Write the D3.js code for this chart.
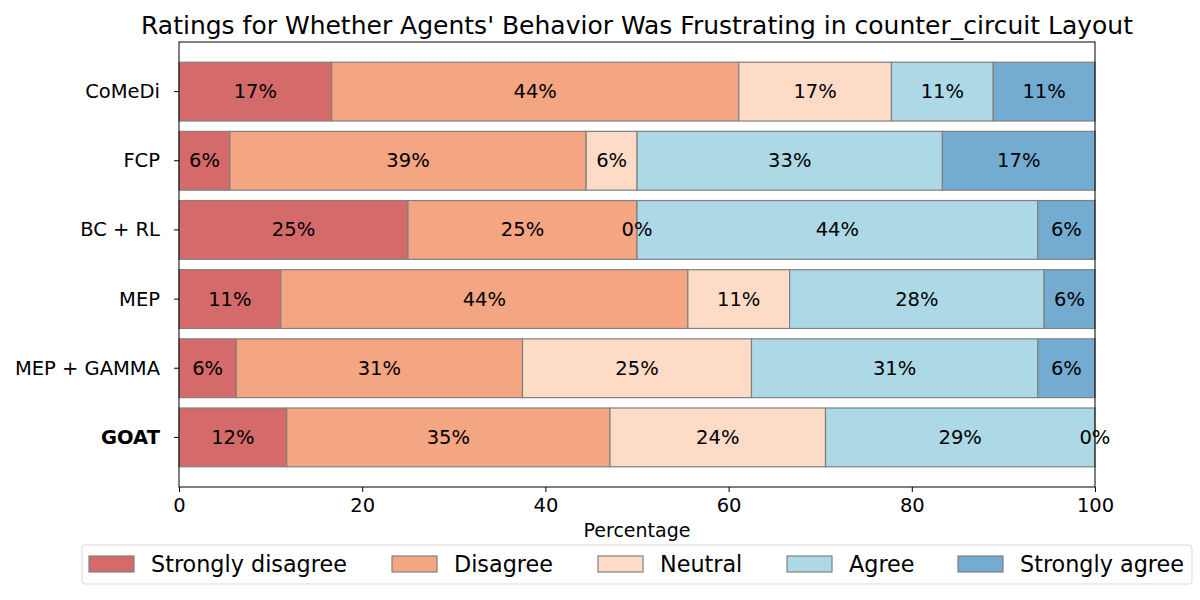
<!DOCTYPE html>
<html>
<head>
    <meta charset="utf-8">
    <script src="https://d3js.org/d3.v7.min.js"></script>
    <style>
        body { margin: 0; background: #fff; }
        svg text { font-family: "DejaVu Sans", sans-serif; fill: #000; }
    </style>
</head>
<body>
<svg id="chart"></svg>
<script>
    var width = 1200;
    var height = 600;

    var methods = ["CoMeDi", "FCP", "BC + RL", "MEP", "MEP + GAMMA", "GOAT"];
    var ratings = ["Strongly disagree", "Disagree", "Neutral", "Agree", "Strongly agree"];
    var colors = ["#d46a6a", "#f4a582", "#fddbc7", "#add8e6", "#74abd1"];

    // percentage per rating, one array per method
    var strongDisagree = [16.67, 5.56, 25.00, 11.11, 6.25, 11.76];
    var disagree       = [44.44, 38.89, 25.00, 44.44, 31.25, 35.29];
    var neutral        = [16.67, 5.56, 0.00, 11.11, 25.00, 23.53];
    var agree          = [11.11, 33.33, 43.75, 27.78, 31.25, 29.41];
    var strongAgree    = [11.11, 16.67, 6.25, 5.56, 6.25, 0.00];
    var xTicks = [0, 20, 40, 60, 80, 100];

    var series = [strongDisagree, disagree, neutral, agree, strongAgree];

    var margin = { left: 179, right: 105, top: 42, bottom: 113 };
    var plotW = width - margin.left - margin.right;
    var plotH = height - margin.top - margin.bottom;

    var svg = d3.select("#chart").attr("width", width).attr("height", height);
    var g = svg.append("g").attr("transform", "translate(" + margin.left + "," + margin.top + ")");

    var x = d3.scaleLinear().domain([0, 100]).range([0, plotW]);
    // matplotlib style: bar height 0.85, 5% margins
    var step = plotH / 6.435;
    var y = function(i) { return (0.2925 + i) * step; };
    var barH = 0.85 * step;

    var rows = methods.map(function(m, i) {
        var acc = 0;
        return series.map(function(s, k) {
            var v = s[i];
            var seg = { row: i, k: k, x0: acc, x1: acc + v, v: v };
            acc += v;
            return seg;
        });
    });

    var segs = [].concat.apply([], rows);

    g.selectAll("rect.bar")
        .data(segs)
        .enter()
        .append("rect")
        .attr("class", "bar")
        .attr("x", function(d) { return x(d.x0); })
        .attr("y", function(d) { return y(d.row); })
        .attr("width", function(d) { return x(d.x1) - x(d.x0); })
        .attr("height", barH)
        .attr("fill", function(d) { return colors[d.k]; })
        .attr("stroke", "#808080")
        .attr("stroke-width", 1.2);

    g.selectAll("text.lbl")
        .data(segs)
        .enter()
        .append("text")
        .attr("class", "lbl")
        .attr("x", function(d) { return x((d.x0 + d.x1) / 2); })
        .attr("y", function(d) { return y(d.row) + barH / 2; })
        .attr("text-anchor", "middle")
        .attr("dominant-baseline", "central")
        .style("font-size", "19.5px")
        .text(function(d) { return Math.round(d.v) + "%"; });

    // axes frame
    g.append("rect")
        .attr("width", plotW).attr("height", plotH)
        .attr("fill", "none").attr("stroke", "#000").attr("stroke-width", 1);

    var xAxis = g.append("g")
        .attr("transform", "translate(0," + plotH + ")")
        .call(d3.axisBottom(x).tickValues(xTicks).tickSize(5).tickPadding(6));
    xAxis.select(".domain").remove();
    xAxis.selectAll("text").style("font-size", "19.5px").style("font-family", "DejaVu Sans");

    var yAxis = g.append("g");
    methods.forEach(function(m, i) {
        var cy = y(i) + barH / 2;
        yAxis.append("line").attr("x1", -5).attr("x2", 0).attr("y1", cy).attr("y2", cy).attr("stroke", "#000");
        yAxis.append("text")
            .attr("x", -19).attr("y", cy)
            .attr("text-anchor", "end")
            .attr("dominant-baseline", "central")
            .style("font-size", "19.5px")
            .style("font-weight", m === "GOAT" ? "bold" : "normal")
            .text(m);
    });

    g.append("text")
        .attr("x", plotW / 2).attr("y", plotH + 50)
        .attr("text-anchor", "middle")
        .style("font-size", "19px")
        .text("Percentage");

    svg.append("text")
        .attr("x", margin.left + plotW / 2).attr("y", 34)
        .attr("text-anchor", "middle")
        .style("font-size", "25px")
        .text("Ratings for Whether Agents' Behavior Was Frustrating in counter_circuit Layout");

    // legend
    var legend = svg.append("g");
    legend.append("rect")
        .attr("x", 82).attr("y", 545).attr("width", 1110).attr("height", 39)
        .attr("rx", 3).attr("fill", "#fff").attr("stroke", "#d9d9d9");
    var legX = [89, 392, 598, 787, 958];
    ratings.forEach(function(r, k) {
        legend.append("rect")
            .attr("x", legX[k]).attr("y", 556).attr("width", 45).attr("height", 16)
            .attr("fill", colors[k]).attr("stroke", "#808080").attr("stroke-width", 1.2);
        legend.append("text")
            .attr("x", legX[k] + 62).attr("y", 564)
            .attr("dominant-baseline", "central")
            .style("font-size", "22.3px")
            .text(r);
    });
</script>
</body>
</html>
